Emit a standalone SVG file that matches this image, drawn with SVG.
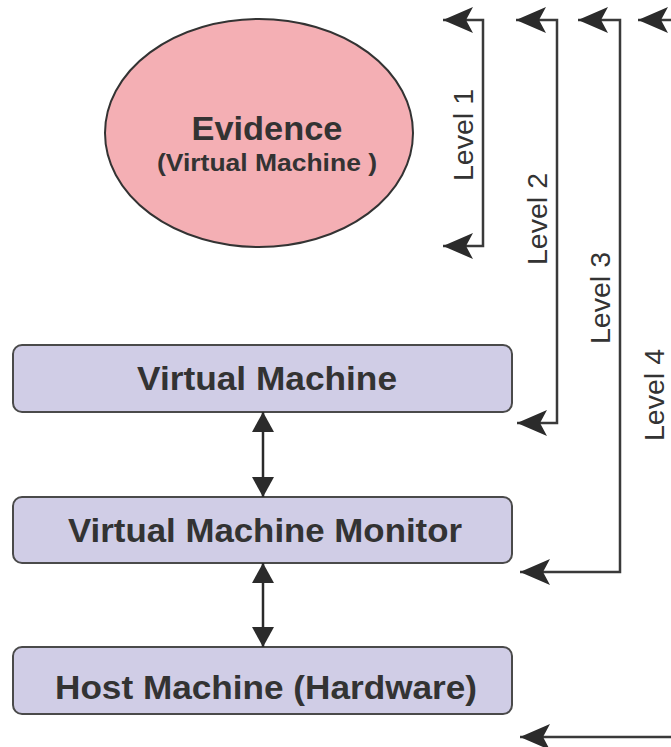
<svg xmlns="http://www.w3.org/2000/svg" width="671" height="747" viewBox="0 0 671 747">
<style>
.box{fill:#d0cde6;stroke:#4a4a4a;stroke-width:2}
.ev{fill:#f4afb4;stroke:#333;stroke-width:2}
.t{font-family:"Liberation Sans",Arial,sans-serif;fill:#333;text-anchor:middle}
.b{font-weight:bold}
.lv{font-family:"Liberation Sans",Arial,sans-serif;fill:#333;font-size:28px;text-anchor:middle}
.br{fill:none;stroke:#3a3a3a;stroke-width:2.5;marker-start:url(#dart);marker-end:url(#dart)}
.dbl{fill:none;stroke:#2a2a2a;stroke-width:2.5;marker-start:url(#tri);marker-end:url(#tri)}
</style>
<defs>
<marker id="dart" markerUnits="userSpaceOnUse" markerWidth="30" markerHeight="26" refX="30" refY="13" orient="auto-start-reverse" overflow="visible">
<path d="M30,13 L0,0 L7,13 L0,26 Z" fill="#2b2b2b"/>
</marker>
<marker id="tri" markerUnits="userSpaceOnUse" markerWidth="20" markerHeight="22" refX="20" refY="11" orient="auto-start-reverse" overflow="visible">
<path d="M0,0 L20,11 L0,22 Z" fill="#2b2b2b"/>
</marker>
</defs>
<g id="evidence">
<ellipse class="ev" cx="259" cy="133" rx="154" ry="114"/>
<text class="t b" x="267" y="140" font-size="33" textLength="151" lengthAdjust="spacingAndGlyphs">Evidence</text>
<text class="t b" x="267" y="171" font-size="24" textLength="220" lengthAdjust="spacingAndGlyphs">(Virtual Machine )</text>
</g>
<g id="vm">
<rect class="box" x="13" y="345" width="499" height="67" rx="9"/>
<text class="t b" x="267" y="390" font-size="33" textLength="260" lengthAdjust="spacingAndGlyphs">Virtual Machine</text>
</g>
<g id="vmm">
<rect class="box" x="13" y="497" width="499" height="66" rx="9"/>
<text class="t b" x="265" y="542" font-size="33" textLength="394" lengthAdjust="spacingAndGlyphs">Virtual Machine Monitor</text>
</g>
<g id="host">
<rect class="box" x="13" y="647" width="499" height="67" rx="9"/>
<text class="t b" x="266" y="699" font-size="33" textLength="422" lengthAdjust="spacingAndGlyphs">Host Machine (Hardware)</text>
</g>
<g id="connectors">
<path class="dbl" d="M263,412 V497"/>
<path class="dbl" d="M263,563 V647"/>
<path class="br" d="M443,20 H483 V246 H443"/>
<path class="br" d="M516,20 H557 V423 H517"/>
<path class="br" d="M578,20 H620 V572 H520"/>
<path class="br" d="M638,20 H690 V737 H520"/>
</g>
<g id="labels">
<text class="lv" transform="translate(473,135) rotate(-90)" textLength="92" lengthAdjust="spacingAndGlyphs">Level 1</text>
<text class="lv" transform="translate(547,219) rotate(-90)" textLength="92" lengthAdjust="spacingAndGlyphs">Level 2</text>
<text class="lv" transform="translate(610,298) rotate(-90)" textLength="92" lengthAdjust="spacingAndGlyphs">Level 3</text>
<text class="lv" transform="translate(664,395) rotate(-90)" textLength="92" lengthAdjust="spacingAndGlyphs">Level 4</text>
</g>
</svg>
